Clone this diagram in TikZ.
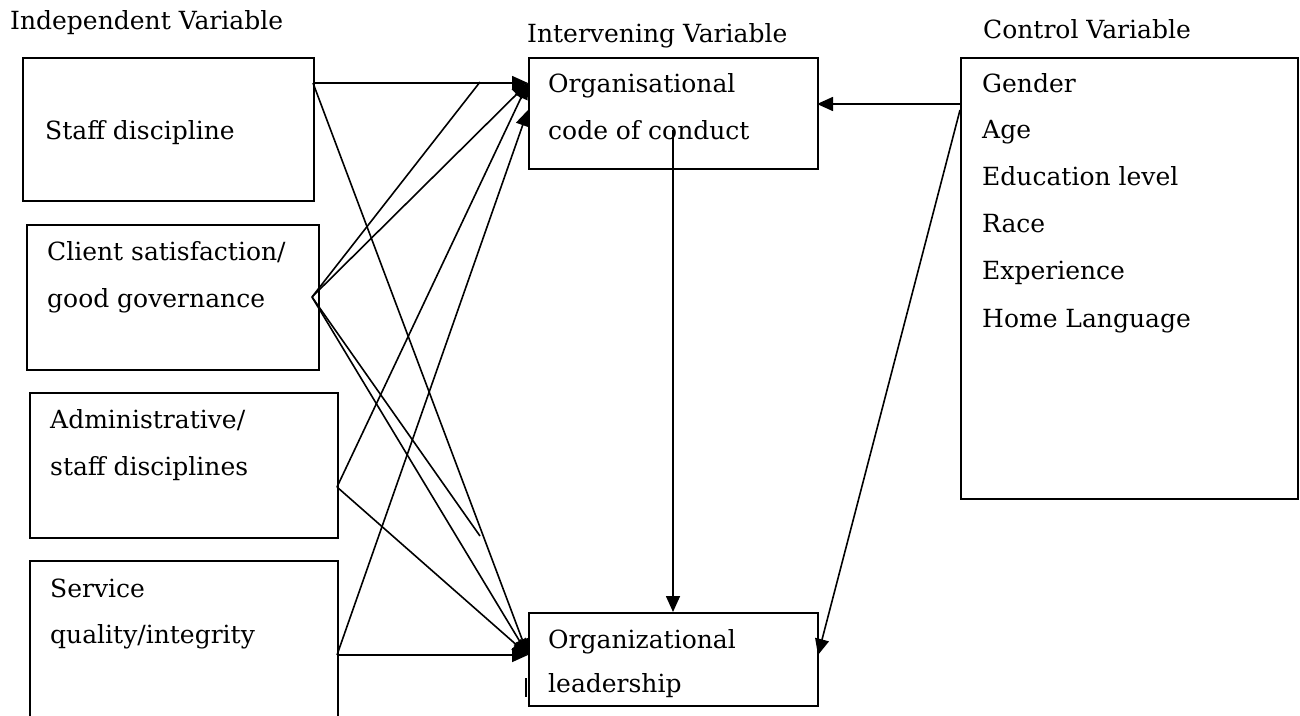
\documentclass[tikz,border=0pt]{standalone}
\usepackage{fontspec}
\setmainfont{DejaVu Serif}
\usetikzlibrary{arrows.meta}
\begin{document}
\begin{tikzpicture}[x=1pt,y=-1pt,
  box/.style={draw=black,line width=1.7pt,minimum width=#1,inner sep=0pt,anchor=north west},
  lbl/.style={anchor=base west,inner sep=0pt,font=\fontsize{25}{30}\selectfont},
  conn/.style={line width=1.6pt},
  arr/.style={conn,-{Triangle[length=16pt,width=14pt]}}]
\useasboundingbox (0,0) rectangle (1300,715);
\clip (0,0) rectangle (1300,715);
% boxes
\node[box=291pt,minimum height=143pt] (staff) at (22,57) {};
\node[box=292pt,minimum height=145pt] (client) at (26,224) {};
\node[box=308pt,minimum height=145pt] (admin) at (29,392) {};
\node[box=308pt,minimum height=180pt] (service) at (29,560) {};
\node[box=289pt,minimum height=111pt] (code) at (528,57) {};
\node[box=289pt,minimum height=93pt] (lead) at (528,612) {};
\node[box=337pt,minimum height=441pt] (ctrl) at (960,57) {};
% headings
\node[lbl] (hind) at (10,29) {Independent Variable};
\node[lbl] (hint) at (527,42) {Intervening Variable};
\node[lbl] (hctl) at (983,38) {Control Variable};
% texts
\node[lbl] (t1) at (45,139) {Staff discipline};
\node[lbl] (t2a) at (47,260) {Client satisfaction/};
\node[lbl] (t2b) at (47,307) {good governance};
\node[lbl] (t3a) at (50,428) {Administrative/};
\node[lbl] (t3b) at (50,475) {staff disciplines};
\node[lbl] (t4a) at (50,597) {Service};
\node[lbl] (t4b) at (50,643) {quality/integrity};
\node[lbl] (t5a) at (548,92) {Organisational};
\node[lbl] (t5b) at (548,139) {code of conduct};
\node[lbl] (t6a) at (548,648) {Organizational};
\node[lbl] (t6b) at (548,692) {leadership};
\node[lbl] (c1) at (982,92) {Gender};
\node[lbl] (c2) at (982,138) {Age};
\node[lbl] (c3) at (982,185) {Education level};
\node[lbl] (c4) at (982,232) {Race};
\node[lbl] (c5) at (982,279) {Experience};
\node[lbl] (c6) at (982,327) {Home Language};
% connection points
\coordinate (so) at (313,83);
\coordinate (co) at (312,297);
\coordinate (ao) at (337,487);
\coordinate (vo) at (337,655);
\coordinate (codeA) at (528,83);
\coordinate (codeB) at (528,110);
\coordinate (leadA) at (528,655);
\coordinate (onstaff) at (480,82);
\coordinate (freeend) at (480,536);
\coordinate (ctlA) at (960,104);
\coordinate (ctlB) at (960,110);
\coordinate (codeR) at (817,104);
\coordinate (leadR) at (818,655);
\coordinate (vtop) at (673,130);
\coordinate (tick1) at (526,678);
\coordinate (tick2) at (526,697);
% connectors
\draw[arr] (so) -- (codeA);
\draw[arr] (so) -- (leadA);
\draw[conn] (co) -- (onstaff);
\draw[arr] (co) -- (codeA);
\draw[conn] (co) -- (freeend);
\draw[arr] (co) -- (leadA);
\draw[arr] (ao) -- (codeA);
\draw[arr] (ao) -- (leadA);
\draw[arr] (vo) -- (codeB);
\draw[arr] (vo) -- (leadA);
\draw[arr] (ctlA) -- (codeR);
\draw[arr] (ctlB) -- (leadR);
\draw[arr] (vtop) -- (vtop |- lead.north);
\draw[conn] (tick1) -- (tick2);
\end{tikzpicture}
\end{document}
